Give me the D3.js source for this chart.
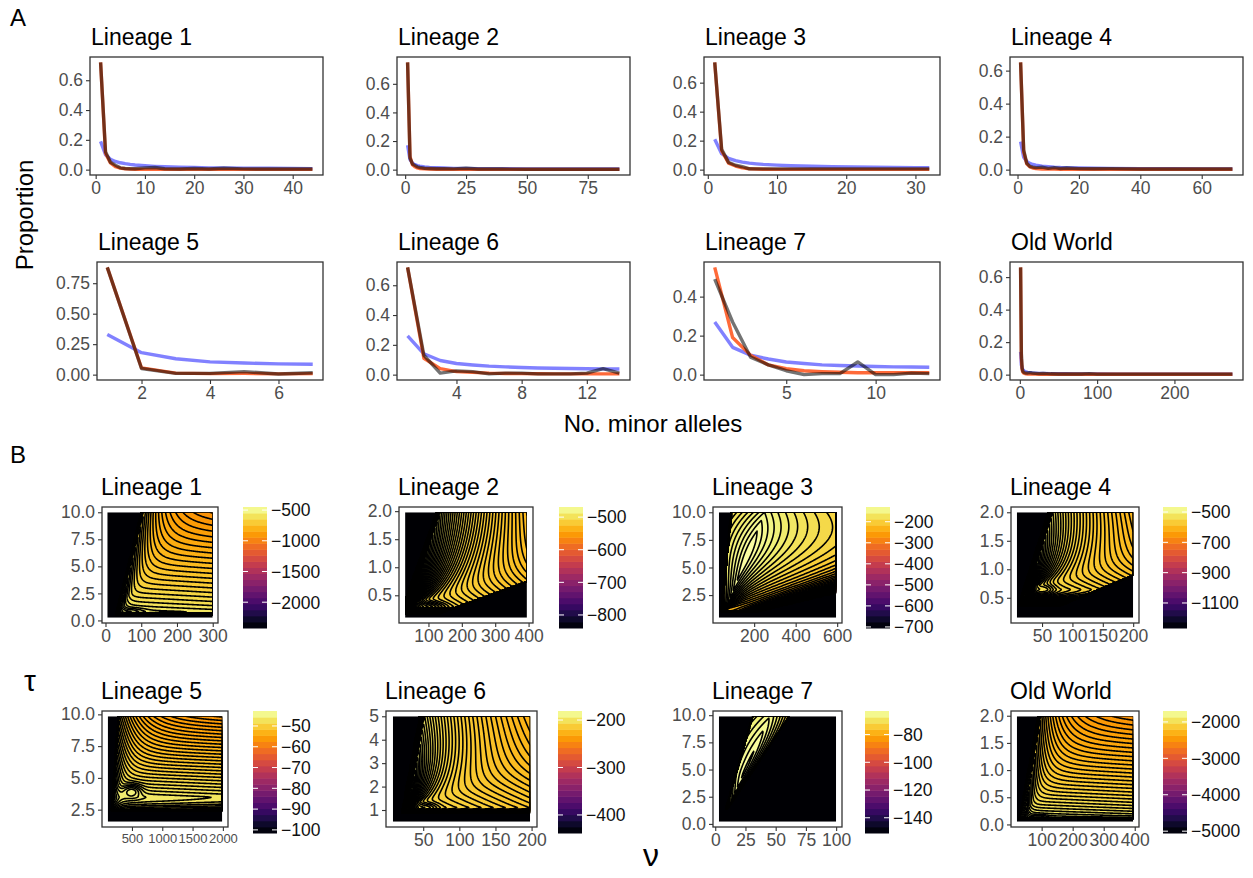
<!DOCTYPE html>
<html>
<head>
<meta charset="utf-8">
<script src="https://cdn.jsdelivr.net/npm/d3@7"></script>
<style>
body { margin: 0; background: #fff; }
</style>
</head>
<body>
<svg id="fig" width="1253" height="878"></svg>
<script>
const FONT = "'Liberation Sans', Arial, Helvetica, sans-serif";
const TICK = 17.5, TITLE = 23;

// ---- panel names
const panelNames = ["Lineage 1", "Lineage 2", "Lineage 3", "Lineage 4",
                    "Lineage 5", "Lineage 6", "Lineage 7", "Old World"];

// ---- A: site frequency spectra (no. minor alleles -> proportion)
const allelesX = [
  [1,2,3,4,5,6,7,8,10,12,14,17,20,23,26,30,35,40,44],
  [1,2,3,4,5,6,8,10,13,16,20,25,30,40,50,60,70,80,88],
  [1,2,3,4,5,6,7,8,10,12,15,18,21,24,27,30,32],
  [1,2,3,4,5,6,8,10,12,14,16,20,25,30,40,50,60,70],
  [1,2,3,4,5,6,7],
  [1,2,3,4,5,6,7,8,9,10,11,12,13,14],
  [1,2,3,4,5,6,7,8,9,10,11,12,13],
  [1,2,3,4,5,6,8,10,13,16,20,25,30,40,50,60,70,80,90,100,125,150,175,200,225,250,275]
];
const observed = [
  [.72,.12,.05,.03,.012,.008,.006,.006,.012,.014,.006,.004,.008,.004,.009,.005,.004,.004,.004],
  [.75,.08,.04,.03,.02,.015,.01,.008,.006,.006,.005,.01,.004,.004,.003,.003,.003,.003,.003],
  [.74,.14,.05,.03,.02,.006,.005,.005,.005,.005,.005,.005,.005,.005,.005,.005,.005],
  [.65,.12,.04,.02,.015,.012,.015,.008,.012,.007,.01,.006,.005,.006,.004,.004,.004,.004],
  [.88,.05,.01,.01,.025,.005,.015],
  [.72,.13,.01,.025,.02,.005,.01,.01,.005,.005,.005,.01,.04,.01],
  [.49,.27,.09,.05,.02,.0,.005,.005,.065,.0,.0,.008,.005],
  [.66,.13,.04,.02,.015,.012,.01,.01,.012,.01,.008,.006,.008,.005,.004,.004,.004,.004,.006,.003,.003,.003,.003,.003,.003,.003,.003]
];
const fitted = [
  [.72,.11,.045,.02,.01,.006,.004,.003,.002,.002,.002,.002,.002,.002,.002,.002,.002,.002,.002],
  [.75,.09,.035,.02,.012,.008,.005,.004,.003,.003,.002,.002,.002,.002,.002,.002,.002,.002,.002],
  [.74,.13,.045,.025,.012,.006,.004,.003,.002,.002,.002,.002,.002,.002,.002,.002,.002],
  [.65,.11,.035,.017,.01,.007,.004,.003,.003,.002,.002,.002,.002,.002,.002,.002,.002,.002],
  [.88,.055,.012,.008,.01,.006,.008],
  [.72,.11,.04,.02,.015,.01,.008,.007,.006,.005,.005,.005,.005,.005],
  [.55,.19,.10,.05,.03,.02,.015,.012,.01,.01,.01,.01,.01],
  [.66,.10,.03,.015,.01,.008,.005,.004,.003,.003,.003,.002,.002,.002,.002,.002,.002,.002,.002,.002,.002,.002,.002,.002,.002,.002,.002]
];
const neutral = [
  [.19,.10,.07,.055,.046,.04,.035,.031,.026,.022,.019,.016,.014,.012,.011,.01,.009,.008,.007],
  [.17,.07,.045,.035,.028,.024,.019,.016,.013,.011,.009,.008,.007,.006,.005,.0045,.004,.004,.004],
  [.21,.11,.078,.062,.052,.045,.04,.036,.031,.027,.023,.02,.018,.016,.015,.014,.013],
  [.17,.075,.05,.038,.031,.027,.021,.018,.015,.013,.012,.01,.008,.007,.006,.005,.004,.004],
  [.33,.18,.13,.105,.095,.088,.085],
  [.26,.14,.095,.075,.065,.057,.052,.048,.045,.043,.041,.04,.039,.038],
  [.27,.14,.10,.08,.065,.057,.05,.047,.044,.042,.04,.039,.038],
  [.14,.06,.04,.03,.025,.021,.017,.014,.012,.01,.009,.008,.007,.006,.005,.005,.004,.004,.004,.004,.003,.003,.003,.003,.003,.003,.003]
];
const sfsXTicks = [[0,10,20,30,40],[0,25,50,75],[0,10,20,30],[0,20,40,60],[2,4,6],[4,8,12],[5,10],[0,100,200]];
const sfsYTicks = [[0,.2,.4,.6],[0,.2,.4,.6],[0,.2,.4,.6],[0,.2,.4,.6],[0,.25,.5,.75],[0,.2,.4,.6],[0,.2,.4],[0,.2,.4,.6]];

// ---- B: log-likelihood surfaces over nu (x) and tau (y)
const nuGrid  = [[5,300],[30,395],[30,595],[8.5,200],[100,1990],[8,198],[3,100],[20,395]];
const tauGrid = [[0.25,10],[0.1,1.98],[0.45,10],[0.15,2],[1.55,9.85],[0.5,5],[0.2,9.9],[0.05,1.99]];
const llRange = [[-2420,-450],[-840,-469],[-705,-130],[-1265,-467],[-101.5,-42.8],[-438,-181],[-151,-63],[-5050,-1700]];
const llTicks = [[-500,-1000,-1500,-2000],[-500,-600,-700,-800],[-200,-300,-400,-500,-600,-700],
                 [-500,-700,-900,-1100],[-50,-60,-70,-80,-90,-100],[-200,-300,-400],
                 [-80,-100,-120,-140],[-2000,-3000,-4000,-5000]];
const nuTicks  = [[0,100,200,300],[100,200,300,400],[200,400,600],[50,100,150,200],
                  [500,1000,1500,2000],[50,100,150,200],[0,25,50,75,100],[100,200,300,400]];
const tauTicks = [[0,2.5,5,7.5,10],[0.5,1,1.5,2],[2.5,5,7.5,10],[0.5,1,1.5,2],
                  [2.5,5,7.5,10],[1,2,3,4,5],[0,2.5,5,7.5,10],[0,0.5,1,1.5,2]];
// surface shape: ridge base, ridge top, fan focus, black edges, best-fit bump
const ridgePeak  = [[40,0.8],[40,0.3],[165,6],[28,0.65],[210,3.5],[30,1.1],[25,5],[45,0.13]];
const ridgeTopNu = [108,135,250,68,290,52,45,98];
const fanFocus   = [0.8,0.3,1.2,0.65,3.0,1.1,1.3,0.13];
const lowBound   = [[25,7.5],[5,60],[35,5.5],[0,30],[130,14],[15,6],[5,2.6],[25,32]];
const highBound  = [null,[55,460],[0,220],[0,225],null,null,[2,6],null];
const tauCut     = [0.5,0.17,1.0,0.35,2.4,0.85,1.3,0.1];
const bestBump   = [[70,0.85,35,0.3,0.02],[100,0.3,50,0.08,0.012],[190,6,40,2,0],[55,0.65,15,0.12,0.012],
                    [500,4,150,0.5,0.03],[55,1.1,15,0.2,0.012],[25,5,5,1,0],[90,0.14,25,0.04,0.015]];
// A, eA, Ab, L, R, fan width top, fan width focus, R2, eR2, contour step, R2 to bound (1)/edge (0), fan base share
const shapeWeights = [
  [0.10,0.8,0.08,0.03,0.12, 60, 10,0.01,1,  0.009,0,0.3],
  [0.05,0.9,0.06,0.03,0.08,200, 15,0.04,1,  0.003,0,1],
  [0.03,2.0,0.05,0.06,0.12,350,  3,0.30,3,  0.010,1,1],
  [0.06,0.9,0.08,0.03,0.08,110,  6,0.04,1,  0.004,0,1],
  [0.10,1.0,0.05,0.03,0.10,400, 80,0.01,1,  0.007,0,0.3],
  [0.06,0.9,0.06,0.03,0.08, 90,  6,0.04,1,  0.004,0,1],
  [0.03,2.0,0.08,0.03,0.03, 20,  1,0.06,1.5,0.012,1,1],
  [0.12,0.7,0.06,0.03,0.10, 80, 10,0.01,1,  0.007,0,0.3]
];

// ---- layout
const sfsBoxes = [[90,323,57,175],[397,630,57,175],[704,940,57,175],[1010,1243,57,175],
                  [97,323,262,380],[397,630,262,380],[704,940,262,380],[1010,1243,262,380]];
const llBoxes = [[102,218,507,623],[399,533,507,623],[713,842,507,623],[1011,1139,507,623],
                 [102,228,711,827],[386,537,711,827],[713,842,711,827],[1011,1139,711,827]];
const cbarPos = [[243,507,628],[559,507,628],[866,507,628],[1163,507,628],
                 [253,711,833],[558,711,833],[865,711,833],[1163,711,833]];

const svg = d3.select("#fig");
const defs = svg.append("defs");

function styleAxis(g) {
  g.attr("font-family", FONT).attr("font-size", TICK);
  g.select(".domain").remove();
  g.selectAll(".tick line").attr("stroke", "#333").attr("stroke-width", 1.1);
  g.selectAll(".tick text").attr("fill", "#4d4d4d");
}

function title(x, y, txt) {
  svg.append("text").attr("x", x).attr("y", y).attr("font-family", FONT)
    .attr("font-size", TITLE).attr("fill", "#000").text(txt);
}

// ================= A =================
panelNames.forEach((name, i) => {
  const [bx0, bx1, by0, by1] = sfsBoxes[i];
  const xs = allelesX[i];
  const n = d3.max(xs);
  const x = d3.scaleLinear().domain([1 - 0.05 * (n - 1), n + 0.05 * (n - 1)]).range([bx0, bx1]);
  const ymax = d3.max([observed[i], fitted[i], neutral[i]].flat());
  const y = d3.scaleLinear().domain([-0.05 * ymax, ymax * 1.05]).range([by1, by0]);

  defs.append("clipPath").attr("id", "ca" + i).append("rect")
    .attr("x", bx0).attr("y", by0).attr("width", bx1 - bx0).attr("height", by1 - by0);
  const g = svg.append("g").attr("clip-path", `url(#ca${i})`);
  const line = d3.line().x((d, k) => x(xs[k])).y(d => y(d));

  g.append("path").datum(neutral[i]).attr("d", line).attr("fill", "none")
    .attr("stroke", "#7373ff").attr("stroke-opacity", 0.9).attr("stroke-width", 3.4)
    .attr("stroke-linejoin", "round");
  g.append("path").datum(fitted[i]).attr("d", line).attr("fill", "none")
    .attr("stroke", "#ff5a23").attr("stroke-opacity", 0.9).attr("stroke-width", 3.4)
    .attr("stroke-linejoin", "round");
  g.append("path").datum(observed[i]).attr("d", line).attr("fill", "none")
    .attr("stroke", "#000").attr("stroke-opacity", 0.55).attr("stroke-width", 3.4)
    .attr("stroke-linejoin", "round");

  svg.append("rect").attr("x", bx0).attr("y", by0).attr("width", bx1 - bx0).attr("height", by1 - by0)
    .attr("fill", "none").attr("stroke", "#333").attr("stroke-width", 1.3);

  const yf = i === 4 ? d3.format(".2f") : d3.format(".1f");
  svg.append("g").attr("transform", `translate(${bx0},0)`)
    .call(d3.axisLeft(y).tickValues(sfsYTicks[i]).tickFormat(yf).tickSize(4).tickPadding(3))
    .call(styleAxis);
  svg.append("g").attr("transform", `translate(0,${by1})`)
    .call(d3.axisBottom(x).tickValues(sfsXTicks[i]).tickFormat(d3.format("d")).tickSize(4).tickPadding(3))
    .call(styleAxis);

  title(bx0 + 1, by0 - 12, name);
});

// ================= B =================
function surface(nu, tau, i) {
  const [A, eA, Ab, L, R, topW, w0, R2, eR2, , toBound, f0] = shapeWeights[i];
  const [nuP, tauP] = ridgePeak[i];
  const [nb, tb, sx, sy, amp] = bestBump[i];
  const tauMax = tauGrid[i][1], nuMax = nuGrid[i][1];
  const bL = lowBound[i][0] + lowBound[i][1] * tau;
  const bH = highBound[i] ? highBound[i][0] + highBound[i][1] * tau : Infinity;
  if (nu > bH) return 0;
  const rNu = nuP + (tau - tauP) * (ridgeTopNu[i] - nuP) / (tauMax - tauP);
  const up = tau >= tauP ? (tau - tauP) / (tauMax - tauP) : 0;
  let drop;
  if (tau >= tauP) drop = A * Math.pow(up, eA);
  else { const a = (tauP - tau) / (tauP - tauCut[i]); drop = Ab * a * a; }
  if (nu < rNu) {
    drop += L * (rNu - nu) / Math.max(rNu - bL, 1e-6);
  } else {
    const tf = fanFocus[i];
    const w = Math.max(w0, topW * (tau - tf) / (tauMax - tf));
    drop += R * (1 - Math.exp(-(nu - rNu) / w)) * (f0 + (1 - f0) * up);
    const ref = toBound ? bH : nuMax;
    const r2 = Math.min((nu - rNu) / Math.max(ref - rNu, 1e-6), 1);
    drop += R2 * Math.pow(r2, eR2);
  }
  const bump = amp * Math.exp(-Math.pow((nu - nb) / sx, 2) - Math.pow((tau - tb) / sy, 2));
  return Math.min(1, Math.max(0.001, 1 - amp - drop + bump));
}

const NX = 170, NY = 170;
panelNames.forEach((name, i) => {
  const [bx0, bx1, by0, by1] = llBoxes[i];
  const [u0, u1] = nuGrid[i], [t0, t1] = tauGrid[i];
  const x = d3.scaleLinear().domain([u0 - 0.05 * (u1 - u0), u1 + 0.05 * (u1 - u0)]).range([bx0, bx1]);
  const y = d3.scaleLinear().domain([t0 - 0.05 * (t1 - t0), t1 + 0.05 * (t1 - t0)]).range([by1, by0]);
  const step = shapeWeights[i][9];

  const values = new Float64Array(NX * NY);
  for (let j = 0; j < NY; j++) {
    const tau = t0 + (t1 - t0) * j / (NY - 1);
    for (let k = 0; k < NX; k++) {
      const nu = u0 + (u1 - u0) * k / (NX - 1);
      const black = tau < tauCut[i] || nu < lowBound[i][0] + lowBound[i][1] * tau;
      values[j * NX + k] = black ? 0 : surface(nu, tau, i);
    }
  }
  const minPos = d3.min(values.filter(v => v > 0));
  const thresholds = d3.range(step, 1, step).filter(t => t > minPos - step);
  const contours = d3.contours().size([NX, NY]).thresholds(thresholds)(values);
  const proj = d3.geoTransform({
    point: function (gx, gy) {
      this.stream.point(x(u0 + (gx - 0.5) * (u1 - u0) / (NX - 1)),
                        y(t0 + (gy - 0.5) * (t1 - t0) / (NY - 1)));
    }
  });
  const path = d3.geoPath(proj);

  defs.append("clipPath").attr("id", "cb" + i).append("rect")
    .attr("x", x(u0)).attr("y", y(t1)).attr("width", x(u1) - x(u0)).attr("height", y(t0) - y(t1));
  const g = svg.append("g").attr("clip-path", `url(#cb${i})`);
  g.append("rect").attr("x", x(u0)).attr("y", y(t1)).attr("width", x(u1) - x(u0))
    .attr("height", y(t0) - y(t1)).attr("fill", d3.interpolateInferno(0));
  g.selectAll("path.fill").data(contours).join("path").attr("class", "fill")
    .attr("d", path).attr("fill", d => d3.interpolateInferno(Math.min(1, d.value + step / 2)));
  g.selectAll("path.iso").data(contours).join("path").attr("class", "iso")
    .attr("d", path).attr("fill", "none").attr("stroke", "#000").attr("stroke-width", 1.6)
    .attr("stroke-linejoin", "round");

  svg.append("rect").attr("x", bx0).attr("y", by0).attr("width", bx1 - bx0).attr("height", by1 - by0)
    .attr("fill", "none").attr("stroke", "#333").attr("stroke-width", 1.3);

  const yf = i === 5 ? d3.format("d") : d3.format(".1f");
  svg.append("g").attr("transform", `translate(${bx0},0)`)
    .call(d3.axisLeft(y).tickValues(tauTicks[i]).tickFormat(yf).tickSize(4).tickPadding(3))
    .call(styleAxis);
  const xa = svg.append("g").attr("transform", `translate(0,${by1})`)
    .call(d3.axisBottom(x).tickValues(nuTicks[i]).tickFormat(d3.format("d")).tickSize(4).tickPadding(3))
    .call(styleAxis);
  if (i === 4) xa.attr("font-size", 13);   // crowded thousands

  title(bx0 - 1, by0 - 12, name);

  // colour bar
  const [cx, cy0, cy1] = cbarPos[i];
  const cw = 24, nb = 20, bh = (cy1 - cy0) / nb;
  const cb = svg.append("g");
  d3.range(nb).forEach(b => {
    cb.append("rect").attr("x", cx).attr("y", cy1 - (b + 1) * bh).attr("width", cw).attr("height", bh + 0.5)
      .attr("fill", d3.interpolateInferno((b + 0.5) / nb));
  });
  const cs = d3.scaleLinear().domain(llRange[i]).range([cy1, cy0]);
  llTicks[i].forEach(v => {
    const yy = cs(v);
    cb.append("line").attr("x1", cx).attr("x2", cx + 5).attr("y1", yy).attr("y2", yy)
      .attr("stroke", "#fff").attr("stroke-width", 1);
    cb.append("line").attr("x1", cx + cw - 5).attr("x2", cx + cw).attr("y1", yy).attr("y2", yy)
      .attr("stroke", "#fff").attr("stroke-width", 1);
    cb.append("text").attr("x", cx + cw + 4).attr("y", yy).attr("dy", "0.36em")
      .attr("font-family", FONT).attr("font-size", TICK).attr("fill", "#111")
      .text(d3.format("d")(v));
  });
});

// ---- figure-level labels
svg.append("text").attr("x", 10).attr("y", 26).attr("font-family", FONT).attr("font-size", 24).text("A");
svg.append("text").attr("x", 10).attr("y", 463).attr("font-family", FONT).attr("font-size", 24).text("B");
svg.append("text").attr("transform", "translate(33,215) rotate(-90)").attr("text-anchor", "middle")
  .attr("font-family", FONT).attr("font-size", 24).text("Proportion");
svg.append("text").attr("x", 653).attr("y", 432).attr("text-anchor", "middle")
  .attr("font-family", FONT).attr("font-size", 24).text("No. minor alleles");
svg.append("text").attr("x", 30).attr("y", 691).attr("text-anchor", "middle")
  .attr("font-family", FONT).attr("font-size", 30).text("τ");
svg.append("text").attr("x", 651).attr("y", 866).attr("text-anchor", "middle")
  .attr("font-family", FONT).attr("font-size", 32).text("ν");
</script>
</body>
</html>
